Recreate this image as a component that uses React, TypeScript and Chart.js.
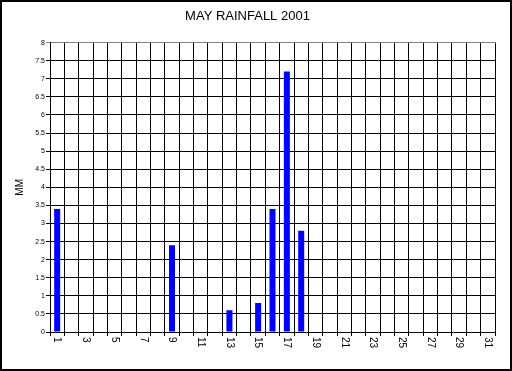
import React, { useEffect, useRef } from "react";
import { Chart, registerables } from "chart.js";

Chart.register(...registerables);

const days: string[] = [
  "1", "2", "3", "4", "5", "6", "7", "8", "9", "10",
  "11", "12", "13", "14", "15", "16", "17", "18", "19", "20",
  "21", "22", "23", "24", "25", "26", "27", "28", "29", "30", "31",
];
const rainfallMM: number[] = [
  3.4, 0, 0, 0, 0, 0, 0, 0, 2.4, 0,
  0, 0, 0.6, 0, 0.8, 3.4, 7.2, 2.8, 0, 0,
  0, 0, 0, 0, 0, 0, 0, 0, 0, 0, 0,
];
const chartTitle = "MAY RAINFALL 2001";
const yAxisTitle = "MM";
const yMin = 0;
const yMax = 8;
const yStep = 0.5;

const FONT = "'Liberation Sans', Arial, sans-serif";

const customPlugin = {
  id: "customDecor",
  afterDraw(chart: any) {
    const ctx = chart.ctx;
    const xScale = chart.scales.x;
    const area = chart.chartArea;
    ctx.save();
    // rotated x labels (clockwise), every other day
    ctx.fillStyle = "#000";
    ctx.font = `10px ${FONT}`;
    ctx.textAlign = "left";
    ctx.textBaseline = "middle";
    const labels = chart.data.labels as string[];
    for (let i = 0; i < labels.length; i += 2) {
      const x = xScale.getPixelForTick(i);
      ctx.save();
      ctx.translate(x, area.bottom + 5);
      ctx.rotate(Math.PI / 2);
      ctx.fillText(labels[i], 0, 0);
      ctx.restore();
    }
    // outer frame
    ctx.strokeStyle = "#000";
    ctx.lineWidth = 2;
    ctx.strokeRect(1, 1, chart.width - 2, chart.height - 2);
    ctx.restore();
  },
};

export default function App() {
  const canvasRef = useRef<HTMLCanvasElement | null>(null);

  useEffect(() => {
    document.body.style.margin = "0";
    const canvas = canvasRef.current;
    if (!canvas) return;
    const chart = new Chart(canvas, {
      type: "bar",
      data: {
        labels: days,
        datasets: [
          {
            label: "Rainfall",
            data: rainfallMM,
            backgroundColor: "#0000FF",
            borderWidth: 0,
            barPercentage: 0.42,
            categoryPercentage: 1,
          },
        ],
      },
      plugins: [customPlugin],
      options: {
        responsive: false,
        animation: false,
        devicePixelRatio: 1,
        layout: { padding: { left: 0, right: 17, top: 0, bottom: 0 } },
        plugins: {
          legend: { display: false },
          tooltip: { enabled: false },
          title: {
            display: true,
            text: chartTitle,
            color: "#000",
            font: { family: FONT, size: 13, weight: "normal" },
            padding: { top: 9, bottom: 18 },
          },
        },
        scales: {
          x: {
            offset: true,
            grid: {
              offset: true,
              color: (c: any) => (c.index === days.length ? "#808080" : "#000"),
              lineWidth: 1,
              tickLength: 4,
              drawTicks: true,
            },
            border: { color: "#000", width: 1 },
            ticks: { display: false },
            afterFit: (scale: any) => {
              scale.height = 39;
            },
          },
          y: {
            min: yMin,
            max: yMax,
            ticks: {
              stepSize: yStep,
              color: "#000",
              font: { family: FONT, size: 7 },
              padding: 1,
              callback: (v: any) => String(Number(v)),
            },
            grid: {
              color: (c: any) => (c.tick && c.tick.value === yMax ? "#808080" : "#000"),
              lineWidth: 1,
              tickLength: 4,
            },
            border: { color: "#000", width: 1 },
            title: {
              display: true,
              text: yAxisTitle,
              color: "#000",
              font: { family: FONT, size: 10 },
              padding: { top: 14, bottom: 0 },
            },
            afterFit: (scale: any) => {
              scale.width = 50;
            },
          },
        },
      },
    });
    return () => chart.destroy();
  }, []);

  return (
    <div style={{ width: 512, height: 371, background: "#fff" }}>
      <canvas ref={canvasRef} width={512} height={371} style={{ display: "block" }} />
    </div>
  );
}
